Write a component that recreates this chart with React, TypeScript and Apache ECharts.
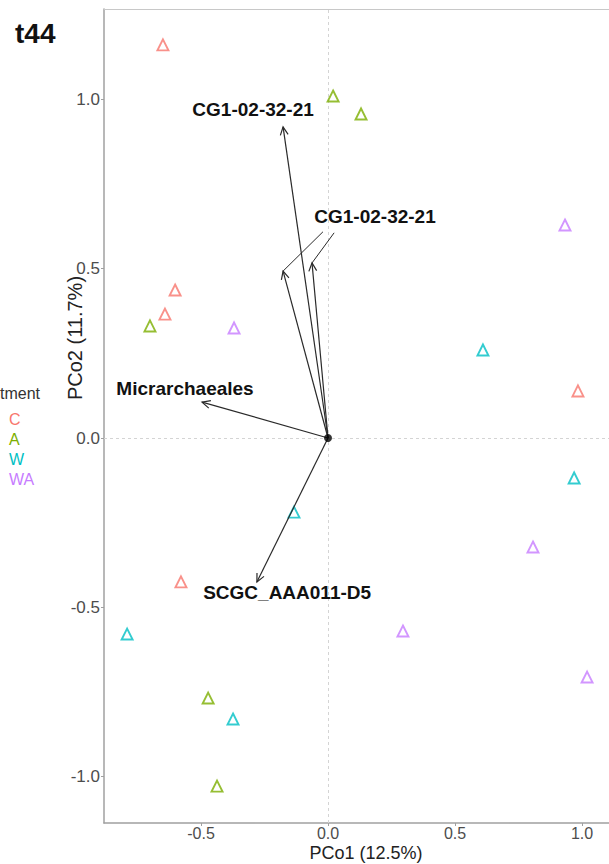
import React, { useEffect, useRef } from "react";
import * as echarts from "echarts";

// Groups (Treatment)
const groups = ["C", "A", "W", "WA"];
const groupColors = ["#F8766D", "#7CAE00", "#00BFC4", "#C77CFF"];

// PCoA sample coordinates [PCo1, PCo2]
const pointsC = [[-0.65, 1.161], [-0.602, 0.437], [-0.642, 0.366], [-0.579, -0.425], [0.984, 0.139]];
const pointsA = [[0.02, 1.01], [0.13, 0.957], [-0.701, 0.331], [-0.472, -0.768], [-0.437, -1.028]];
const pointsW = [[0.61, 0.26], [0.969, -0.118], [-0.134, -0.219], [-0.791, -0.579], [-0.374, -0.83]];
const pointsWA = [[0.933, 0.629], [-0.37, 0.325], [0.807, -0.322], [0.295, -0.57], [1.02, -0.706]];
const groupPoints = [pointsC, pointsA, pointsW, pointsWA];

// Biplot arrows (taxa loadings)
const arrowLabels = ["CG1-02-32-21", "CG1-02-32-21", "", "Micrarchaeales", "SCGC_AAA011-D5"];
const arrowX = [-0.177, -0.177, -0.063, -0.496, -0.28];
const arrowY = [0.919, 0.493, 0.517, 0.106, -0.425];
// repelled label anchors
const labelX = [-0.295, 0.185, 0.185, -0.563, -0.161];
const labelY = [0.969, 0.653, 0.653, 0.145, -0.455];
// leader segment starts (null = none)
const leaderX = [null, -0.02, 0.024, null, null];
const leaderY = [null, 0.609, 0.606, null, null];

const xTicks = [-0.5, 0, 0.5, 1.0];
const yTicks = [-1.0, -0.5, 0, 0.5, 1.0];

const FONT = "'Liberation Sans', Arial, sans-serif";

export default function App() {
  const ref = useRef<HTMLDivElement>(null);
  useEffect(() => {
    if (!ref.current) return;
    const chart = echarts.init(ref.current, null, { renderer: "svg" });
    const scatterSeries = groups.map((g, i) => ({
      name: g,
      type: "scatter",
      data: groupPoints[i],
      symbol: "triangle",
      symbolSize: 11,
      itemStyle: { color: "rgba(0,0,0,0)", borderColor: groupColors[i], borderWidth: 1.9 },
      z: 3,
      ...(i === 0
        ? {
            markLine: {
              silent: true,
              symbol: ["none", "none"],
              label: { show: false },
              lineStyle: { color: "#d4d4d4", type: [3, 3], width: 1 },
              data: [{ xAxis: 0 }, { yAxis: 0 }],
              z: 1,
            },
          }
        : {}),
    }));

    const arrowData = arrowX.map((x, i) => [x, arrowY[i]]);

    const option: any = {
      animation: false,
      backgroundColor: "#ffffff",
      textStyle: { fontFamily: FONT },
      grid: {
        left: 104,
        right: 11,
        top: 9,
        bottom: 41,
        outerBoundsMode: "none",
        containLabel: false,
        show: false,
      },
      xAxis: [
        {
          type: "value",
          min: -0.882,
          max: 1.185,
          axisLine: { show: true, onZero: false, lineStyle: { color: "#a0a0a0", width: 1.5 } },
          axisTick: { show: true, length: 3, customValues: xTicks, lineStyle: { color: "#a0a0a0" } },
          axisLabel: {
            customValues: xTicks,
            fontSize: 16,
            color: "#4d4d4d",
            margin: 2,
            fontFamily: FONT,
            formatter: (v: number) => v.toFixed(1),
          },
          splitLine: { show: false },
        },
        {
          type: "value",
          position: "top",
          min: -0.882,
          max: 1.185,
          axisLine: { show: true, onZero: false, lineStyle: { color: "#c8c8c8", width: 1 } },
          axisTick: { show: false },
          axisLabel: { show: false },
          splitLine: { show: false },
        },
      ],
      yAxis: {
        type: "value",
        min: -1.137,
        max: 1.267,
        axisLine: { show: true, onZero: false, lineStyle: { color: "#a0a0a0", width: 1.5 } },
        axisTick: { show: true, length: 3, customValues: yTicks, lineStyle: { color: "#a0a0a0" } },
        axisLabel: {
          customValues: yTicks,
          fontSize: 17,
          color: "#4d4d4d",
          margin: 4,
          fontFamily: FONT,
          formatter: (v: number) => v.toFixed(1),
        },
        splitLine: { show: false },
      },
      legend: {
        orient: "vertical",
        left: 4,
        top: 411,
        padding: 0,
        itemWidth: 0,
        itemHeight: 16,
        itemGap: 4,
        selectedMode: false,
        textStyle: { fontSize: 16, lineHeight: 16, fontFamily: FONT, padding: 0 },
        data: groups.map((g, i) => ({ name: g, icon: "none", textStyle: { color: groupColors[i] } })),
      },
      graphic: [
        {
          type: "text",
          left: 15,
          top: 19,
          style: { text: "t44", font: `bold 28px ${FONT}`, fill: "#111" },
        },
        {
          type: "text",
          x: 0,
          y: 393,
          style: { text: "tment", font: `16px ${FONT}`, fill: "#333", verticalAlign: "middle" },
        },
        {
          type: "text",
          x: 75,
          y: 338,
          rotation: Math.PI / 2,
          style: {
            text: "PCo2 (11.7%)",
            font: `20px ${FONT}`,
            fill: "#222",
            align: "center",
            verticalAlign: "middle",
          },
        },
        {
          type: "text",
          x: 366,
          y: 853,
          style: {
            text: "PCo1 (12.5%)",
            font: `18px ${FONT}`,
            fill: "#222",
            align: "center",
            verticalAlign: "middle",
          },
        },
      ],
      series: [
        ...scatterSeries,
        {
          name: "arrows",
          type: "custom",
          clip: false,
          z: 4,
          encode: { x: 0, y: 1 },
          data: arrowData,
          renderItem: (params: any, api: any) => {
            const i = params.dataIndex;
            const o = api.coord([0, 0]);
            const t = api.coord([api.value(0), api.value(1)]);
            const ang = Math.atan2(t[1] - o[1], t[0] - o[0]);
            const hl = 9;
            const ha = Math.PI / 7;
            const p1 = [t[0] - hl * Math.cos(ang - ha), t[1] - hl * Math.sin(ang - ha)];
            const p2 = [t[0] - hl * Math.cos(ang + ha), t[1] - hl * Math.sin(ang + ha)];
            const stroke = { stroke: "#2a2a2a", lineWidth: 1.2, fill: "none" };
            const children: any[] = [
              { type: "line", shape: { x1: o[0], y1: o[1], x2: t[0], y2: t[1] }, style: stroke },
              { type: "polyline", shape: { points: [p1, t, p2] }, style: stroke },
            ];
            if (leaderX[i] !== null) {
              const l = api.coord([leaderX[i], leaderY[i]]);
              children.push({
                type: "line",
                shape: { x1: l[0], y1: l[1], x2: t[0], y2: t[1] },
                style: { stroke: "#2a2a2a", lineWidth: 1 },
              });
            }
            if (arrowLabels[i]) {
              const lp = api.coord([labelX[i], labelY[i]]);
              children.push({
                type: "text",
                x: lp[0],
                y: lp[1],
                style: {
                  text: arrowLabels[i],
                  font: `bold 19px ${FONT}`,
                  fill: "#111",
                  align: "center",
                  verticalAlign: "middle",
                },
              });
            }
            return { type: "group", children };
          },
        },
        {
          name: "origin",
          type: "scatter",
          data: [[0, 0]],
          symbol: "circle",
          symbolSize: 8,
          itemStyle: { color: "#000" },
          z: 5,
        },
      ],
    };
    chart.setOption(option);
    return () => chart.dispose();
  }, []);
  return (
    <div
      ref={ref}
      style={{ position: "fixed", left: 0, top: 0, width: 640, height: 864, background: "#fff" }}
    />
  );
}
